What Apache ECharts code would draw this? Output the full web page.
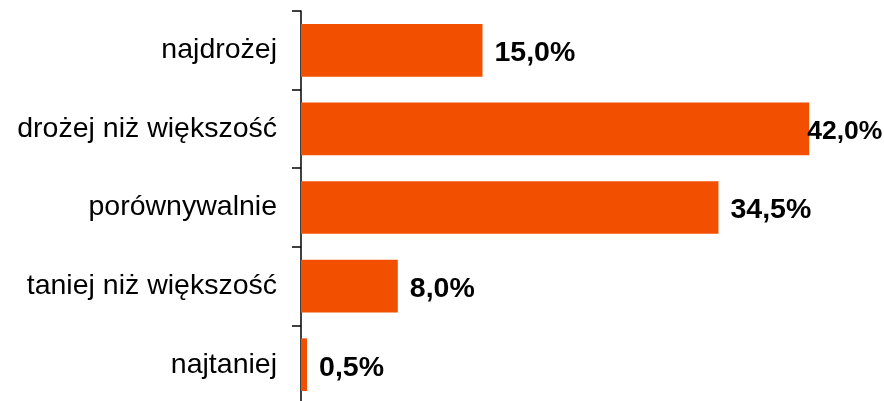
<!DOCTYPE html>
<html>
<head>
<meta charset="utf-8">
<style>
  html, body { margin: 0; padding: 0; background: #fff; }
  #chart { width: 884px; height: 401px; }
</style>
<script src="https://cdn.jsdelivr.net/npm/echarts@6/dist/echarts.min.js"></script>
</head>
<body>
<div id="chart"></div>
<script>
// Price perception categories, top to bottom
const categories = ['najdrożej', 'drożej niż większość', 'porównywalnie', 'taniej niż większość', 'najtaniej'];
// Share of answers, percent
const shares = [15.0, 42.0, 34.5, 8.0, 0.5];

const fmt = v => v.toFixed(1).replace('.', ',') + '%';
const maxShare = Math.max(...shares);

const chart = echarts.init(document.getElementById('chart'), null, { renderer: 'canvas' });

chart.setOption({
  animation: false,
  backgroundColor: '#ffffff',
  grid: {
    left: 301, top: 11, width: 605, height: 393,
    containLabel: false,
    outerBoundsMode: 'none'
  },
  xAxis: {
    type: 'value',
    min: 0,
    max: 50,
    show: false
  },
  yAxis: {
    type: 'category',
    data: categories,
    inverse: true,
    axisLine: { show: true, lineStyle: { color: '#000', width: 1.5 } },
    axisTick: { show: true, length: 9, lineStyle: { color: '#000', width: 1.5 } },
    axisLabel: {
      margin: 24,
      color: '#000',
      fontSize: 28.5,
      padding: [4, 0, 0, 0],
      fontFamily: '"Liberation Sans", Arial, sans-serif'
    },
    splitLine: { show: false }
  },
  series: [{
    type: 'bar',
    barCategoryGap: '33%',
    itemStyle: { color: '#F24F00' },
    label: {
      show: true,
      position: 'right',
      distance: 12,
      offset: [0, 3],
      color: '#000',
      fontSize: 28.5,
      fontWeight: 'bold',
      fontFamily: '"Liberation Sans", Arial, sans-serif',
      formatter: p => fmt(p.value)
    },
    // the longest bar's label is squeezed and pulled back so it stays inside the frame
    data: shares.map(v => v === maxShare
      ? { value: v, label: { offset: [-14, 3], fontSize: 26.5 } }
      : v)
  }]
});
</script>
</body>
</html>
